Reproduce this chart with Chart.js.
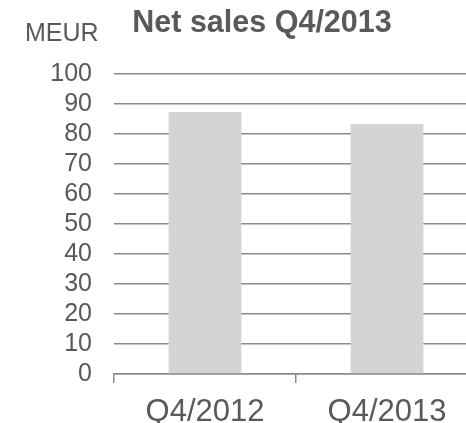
<!DOCTYPE html>
<html>
<head>
<meta charset="utf-8">
<script src="https://cdn.jsdelivr.net/npm/chart.js@4/dist/chart.umd.min.js"></script>
<style>
  html, body { margin: 0; padding: 0; overflow: hidden; background: #fff; }
  #wrap { width: 478px; height: 423px; }
</style>
</head>
<body>
<div id="wrap"><canvas id="myChart"></canvas></div>
<script>
var categories = ["Q4/2012", "Q4/2013"];
var netSales = [87.3, 83.3];
var yTicks = [0, 10, 20, 30, 40, 50, 60, 70, 80, 90, 100];

var textColor = "#595959";
var gridColor = "#898989";
var barColor = "#d4d4d4";
var fontName = "'Liberation Sans', Arial, sans-serif";

// title and unit label, drawn over the top area
var headerText = {
    id: "headerText",
    afterDraw: function(chart) {
        var ctx = chart.ctx;
        ctx.save();
        ctx.fillStyle = textColor;
        ctx.textBaseline = "alphabetic";
        ctx.textAlign = "left";
        ctx.font = "25px " + fontName;
        ctx.fillText("MEUR", 25, 41);
        ctx.font = "bold 30.5px " + fontName;
        ctx.textAlign = "center";
        ctx.fillText("Net sales Q4/2013", 262, 32);
        ctx.restore();
    }
};

var chartCtx = document.getElementById("myChart");
var myChart = new Chart(chartCtx, {
    type: "bar",
    data: {
        labels: categories,
        datasets: [
            {
                label: "Net sales",
                data: netSales,
                backgroundColor: barColor,
                borderWidth: 0,
                categoryPercentage: 1,
                barPercentage: 0.4,
            },
        ],
    },
    plugins: [headerText],
    options: {
        responsive: true,
        maintainAspectRatio: false,
        animation: false,
        layout: { padding: { top: 74, right: 0, bottom: -19, left: 0 } },
        plugins: {
            legend: { display: false },
            tooltip: { enabled: false },
            title: { display: false },
        },
        scales: {
            x: {
                offset: true,
                border: { display: true, color: gridColor, width: 1.5 },
                grid: {
                    offset: true,
                    drawOnChartArea: false,
                    drawTicks: true,
                    tickLength: 9,
                    color: gridColor,
                    lineWidth: 1.5,
                },
                ticks: {
                    color: textColor,
                    font: { family: fontName, size: 31, lineHeight: 1 },
                    padding: 14,
                    maxRotation: 0,
                },
            },
            y: {
                min: 0,
                max: 100,
                afterBuildTicks: function(scale) {
                    scale.ticks = yTicks.map(function(v) { return { value: v }; });
                },
                afterFit: function(scale) {
                    scale.width = 114;
                },
                border: { display: false },
                grid: {
                    color: gridColor,
                    lineWidth: 1.5,
                    drawTicks: false,
                },
                ticks: {
                    autoSkip: false,
                    color: textColor,
                    font: { family: fontName, size: 25 },
                    padding: 22,
                },
            },
        },
    },
});
</script>
</body>
</html>
